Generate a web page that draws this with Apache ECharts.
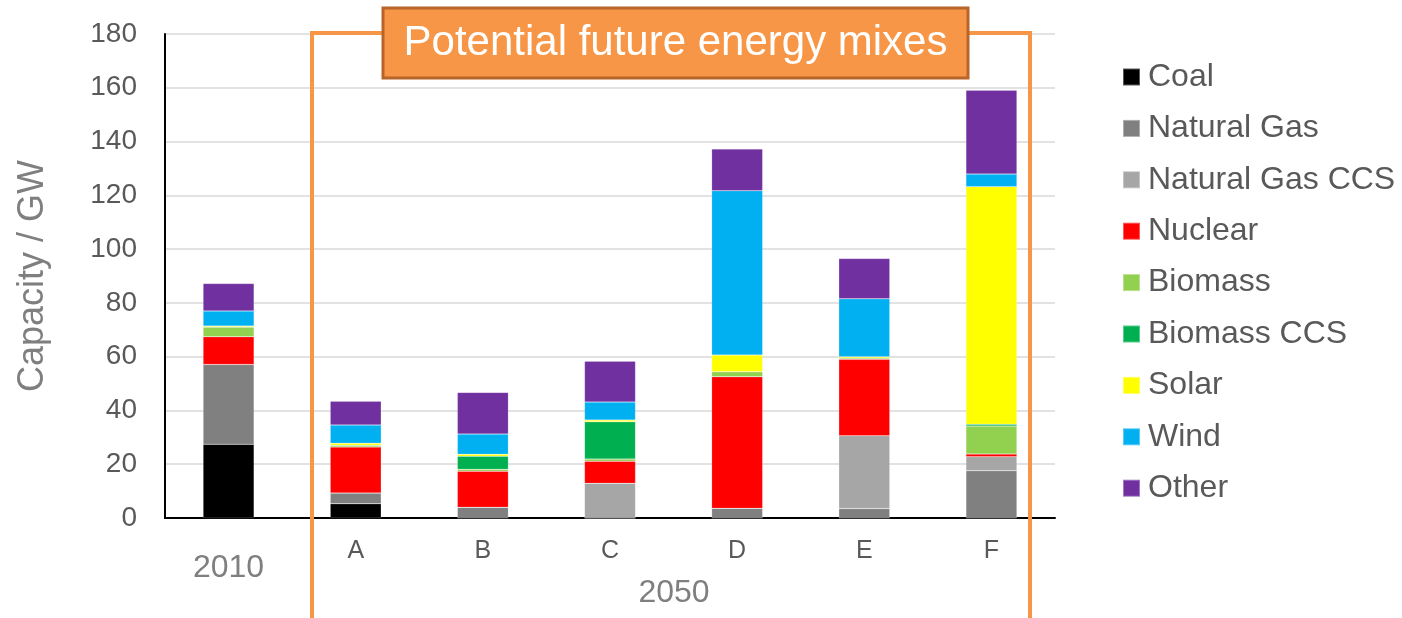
<!DOCTYPE html>
<html>
<head>
<meta charset="utf-8">
<script src="https://cdn.jsdelivr.net/npm/echarts@6/dist/echarts.min.js"></script>
<style>
  html, body { margin: 0; padding: 0; background: #fff; }
  #energyChart { width: 1402px; height: 618px; }
</style>
</head>
<body>
<div id="energyChart"></div>
<script>
var categories = ['2010', 'A', 'B', 'C', 'D', 'E', 'F']
var yTicks = [0, 20, 40, 60, 80, 100, 120, 140, 160, 180]

// GW per category, bottom to top of the stack
var coal = [27.4, 5.3, 0, 0, 0, 0, 0]
var naturalGas = [29.7, 4.0, 4.0, 0, 3.6, 3.5, 17.6]
var naturalGasCcs = [0, 0, 0, 12.9, 0, 27.1, 5.2]
var nuclear = [10.3, 17.1, 13.4, 8.2, 48.9, 28.4, 1.0]
var biomass = [3.6, 0.7, 0.7, 0.8, 1.9, 0.5, 10.4]
var biomassCcs = [0, 0, 4.9, 13.9, 0, 0, 0.7]
var solar = [0.4, 0.7, 0.7, 0.6, 6.2, 0.5, 88.3]
var wind = [5.6, 6.8, 7.5, 6.7, 61.1, 21.5, 4.7]
var other = [10.2, 8.8, 15.5, 15.2, 15.5, 15.0, 31.2]

var seriesList = [
  { name: 'Coal', data: coal, color: '#000000' },
  { name: 'Natural Gas', data: naturalGas, color: '#808080' },
  { name: 'Natural Gas CCS', data: naturalGasCcs, color: '#a6a6a6' },
  { name: 'Nuclear', data: nuclear, color: '#ff0000' },
  { name: 'Biomass', data: biomass, color: '#92d050' },
  { name: 'Biomass CCS', data: biomassCcs, color: '#00b050' },
  { name: 'Solar', data: solar, color: '#ffff00' },
  { name: 'Wind', data: wind, color: '#00b0f0' },
  { name: 'Other', data: other, color: '#7030a0' }
]

var orange = '#f79646'
var font = 'Liberation Sans, Arial, sans-serif'

var option = {
  animation: false,
  textStyle: { fontFamily: font },
  grid: { left: 165, right: 347, top: 34, bottom: 100 },
  legend: {
    orient: 'vertical',
    left: 1117,
    top: 56,
    icon: 'rect',
    itemWidth: 17,
    itemHeight: 17,
    itemGap: 19.4,
    textStyle: { fontSize: 32, lineHeight: 32, color: '#595959', padding: [0, 0, 0, 3] },
    data: seriesList.map(function (s) { return s.name })
  },
  xAxis: {
    type: 'category',
    data: categories,
    axisLine: { lineStyle: { color: '#000', width: 2 } },
    axisTick: { show: false },
    axisLabel: {
      margin: 21,
      formatter: function (v) {
        return v === '2010' ? '{y|' + v + '}' : '{c|' + v + '}'
      },
      rich: {
        c: { fontSize: 25, lineHeight: 25, color: '#595959' },
        y: { fontSize: 32, lineHeight: 32, color: '#7f7f7f', padding: [27, 0, 0, 0] }
      }
    }
  },
  yAxis: {
    type: 'value',
    min: yTicks[0],
    max: yTicks[yTicks.length - 1],
    interval: 20,
    name: 'Capacity / GW',
    nameLocation: 'middle',
    nameGap: 114,
    nameTextStyle: { fontSize: 36, color: '#7f7f7f' },
    axisLine: { show: true, lineStyle: { color: '#000', width: 2 } },
    axisTick: { show: false },
    axisLabel: { fontSize: 28, color: '#595959', margin: 28 },
    splitLine: { lineStyle: { color: '#d9d9d9', width: 1.5 } }
  },
  series: seriesList.map(function (s) {
    return {
      name: s.name,
      type: 'bar',
      stack: 'mix',
      barWidth: 51,
      data: s.data,
      itemStyle: { color: s.color, borderColor: 'rgba(255,255,255,0.35)', borderWidth: 0.5 }
    }
  }),
  graphic: [
    {
      // bracket round the 2050 scenarios
      type: 'polyline',
      z: 100,
      shape: { points: [[312, 618], [312, 33], [1030, 33], [1030, 618]] },
      style: { stroke: orange, lineWidth: 4, fill: null }
    },
    {
      type: 'rect',
      z: 101,
      shape: { x: 383, y: 8, width: 585, height: 70 },
      style: { fill: orange, stroke: '#b7652a', lineWidth: 3 }
    },
    {
      type: 'text',
      z: 102,
      x: 675.5,
      y: 43,
      style: {
        text: 'Potential future energy mixes',
        fill: '#fff',
        font: '42px ' + font,
        align: 'center',
        verticalAlign: 'middle'
      }
    },
    {
      type: 'text',
      z: 102,
      x: 674,
      y: 593,
      style: {
        text: '2050',
        fill: '#7f7f7f',
        font: '32px ' + font,
        align: 'center',
        verticalAlign: 'middle'
      }
    }
  ]
}

var myChart = echarts.init(document.getElementById('energyChart'))
myChart.setOption(option)
</script>
</body>
</html>
